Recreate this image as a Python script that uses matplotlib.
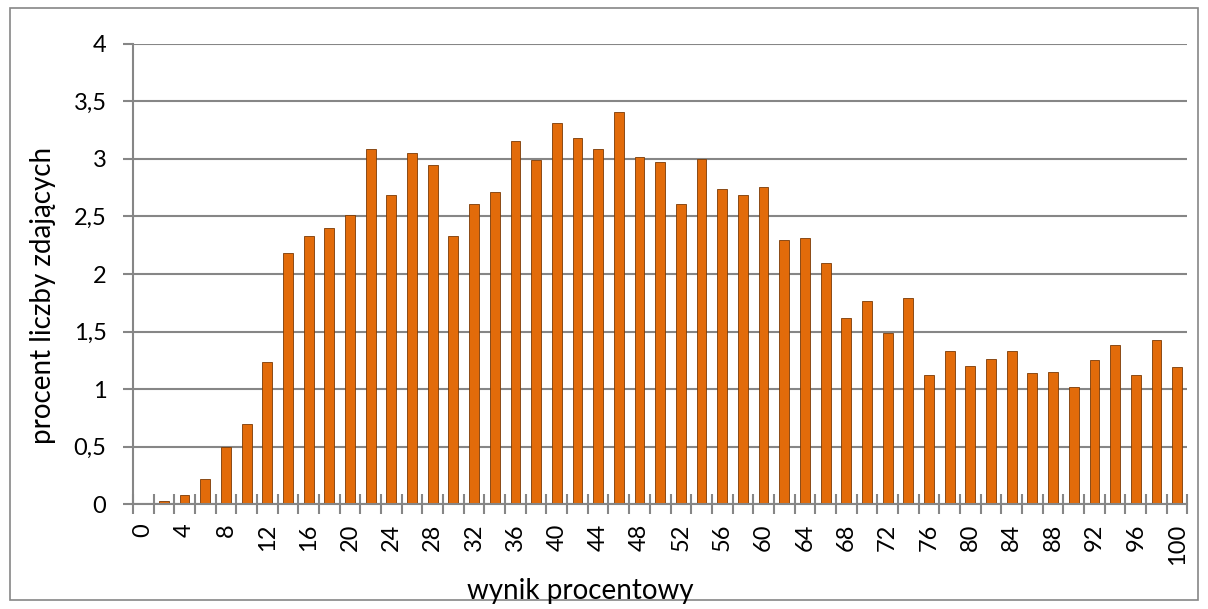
import matplotlib.pyplot as plt
import numpy as np
from matplotlib.patches import Rectangle

# wynik procentowy (0, 2, ..., 100)
wyniki = list(range(0, 101, 2))
procent = [0.01, 0.03, 0.08, 0.22, 0.50, 0.70, 1.24, 2.18, 2.33, 2.40,
           2.51, 3.09, 2.69, 3.05, 2.95, 2.33, 2.61, 2.71, 3.16, 2.99,
           3.31, 3.18, 3.09, 3.41, 3.02, 2.97, 2.61, 3.00, 2.74, 2.69,
           2.76, 2.30, 2.31, 2.10, 1.62, 1.77, 1.49, 1.79, 1.12, 1.33,
           1.20, 1.26, 1.33, 1.14, 1.15, 1.02, 1.25, 1.38, 1.12, 1.43,
           1.19]
y_ticks = [0, 0.5, 1, 1.5, 2, 2.5, 3, 3.5, 4]
x_labels = list(range(0, 101, 4))

plt.rcParams['font.family'] = ['Lato', 'DejaVu Sans']

fig = plt.figure(figsize=(12.08, 6.09), dpi=100)
ax = fig.add_axes([0.110, 0.172, 0.873, 0.756])

ax.bar(wyniki, procent, width=0.95, color='#E26B0A', edgecolor='#7A3A05',
       linewidth=0.6, zorder=3)

ax.set_ylim(0, 4)
ax.set_xlim(-1, 101)
ax.set_yticks(y_ticks)
ax.set_yticklabels([('%g' % v).replace('.', ',') for v in y_ticks], fontsize=17)
ax.grid(axis='y', color='#868686', linewidth=1.5, zorder=0)
ax.tick_params(axis='y', length=7, width=1.5, color='#868686', pad=12)

# etykiety co 4, kreski na granicach kategorii
ax.set_xticks(x_labels)
ax.set_xticklabels([str(v) for v in x_labels], rotation=90, fontsize=17)
ax.tick_params(axis='x', which='major', length=0, pad=14)
ax.set_xticks(np.arange(-1, 102, 2), minor=True)
ax.tick_params(axis='x', which='minor', direction='inout', length=14,
               width=1.5, color='#868686')

for s in ['top', 'right']:
    ax.spines[s].set_visible(False)
ax.spines['left'].set_color('#868686')
ax.spines['left'].set_linewidth(1.5)
ax.spines['bottom'].set_color('#868686')
ax.spines['bottom'].set_linewidth(1.5)
ax.spines['bottom'].set_zorder(4)

fig.text(43 / 1208, 1 - 295 / 609, 'procent liczby zdających', fontsize=20,
         rotation=90, ha='center', va='center')
fig.text(580 / 1208, 1 - 591 / 609, 'wynik procentowy', fontsize=20,
         ha='center', va='center')

fig.patches.append(Rectangle((0.008, 0.015), 0.984, 0.972, transform=fig.transFigure,
                             fill=False, edgecolor='#868686', linewidth=1.2))

fig.savefig('out.png', dpi=100)
